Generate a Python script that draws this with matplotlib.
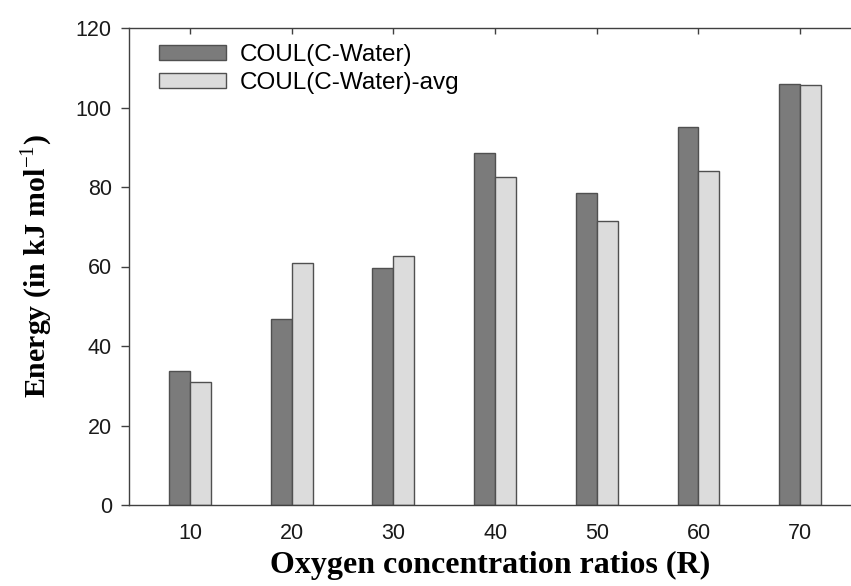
import numpy as np
import matplotlib.pyplot as plt

# values
ratios = [10, 20, 30, 40, 50, 60, 70]
coul = [33.8, 46.7, 59.7, 88.5, 78.6, 95.2, 105.9]
coul_avg = [30.9, 60.9, 62.6, 82.4, 71.4, 84.0, 105.7]

dark = "#7b7b7b"
light = "#dcdcdc"
edge = "#505050"

plt.rcParams["mathtext.fontset"] = "custom"
plt.rcParams["mathtext.bf"] = "Liberation Serif:bold"
plt.rcParams["mathtext.rm"] = "Liberation Serif"

fig = plt.figure(figsize=(8.51, 5.86), dpi=100)
ax = fig.add_axes([128.5/851, 1-505/586, 1-128.5/851, (505-28)/586])

w = 2.06
ax.bar(ratios, coul, width=-w, align="edge", color=dark, edgecolor=edge, linewidth=1.0,
       label="COUL(C-Water)")
ax.bar(ratios, coul_avg, width=w, align="edge", color=light, edgecolor=edge, linewidth=1.0,
       label="COUL(C-Water)-avg")

ax.set_xlim(3.95, 75)
ax.set_ylim(0, 120)
ax.set_yticks(np.arange(0, 121, 20))
ax.set_xticks(ratios)

for s in ["left", "bottom", "top"]:
    ax.spines[s].set_color("#404040")
    ax.spines[s].set_linewidth(1.0)
ax.spines["right"].set_visible(False)

ax.tick_params(axis="y", direction="out", length=6, width=1, color="#404040",
               labelsize=15.5, pad=6)
ax.tick_params(axis="x", bottom=False, top=True, direction="in", length=4, width=1,
               color="#404040", labelsize=15.5, pad=13)
for lab in ax.get_xticklabels() + ax.get_yticklabels():
    lab.set_fontfamily("Liberation Sans")
    lab.set_color("#1a1a1a")

ax.set_xlabel("Oxygen concentration ratios (R)", fontfamily="Liberation Serif",
              fontweight="bold", fontsize=23, labelpad=5)
ax.set_ylabel("Energy (in kJ mol$^{\\mathrm{-1}}$)", fontfamily="Liberation Serif",
              fontweight="bold", fontsize=21.5, labelpad=15)

leg = ax.legend(loc="upper left", bbox_to_anchor=(0.02, 1.0), frameon=False,
                prop={"family": "Liberation Sans", "size": 17.5},
                handlelength=2.75, handleheight=0.55, handletextpad=0.6,
                labelspacing=0.25, borderaxespad=0.25)

fig.savefig("out.png", dpi=100)
